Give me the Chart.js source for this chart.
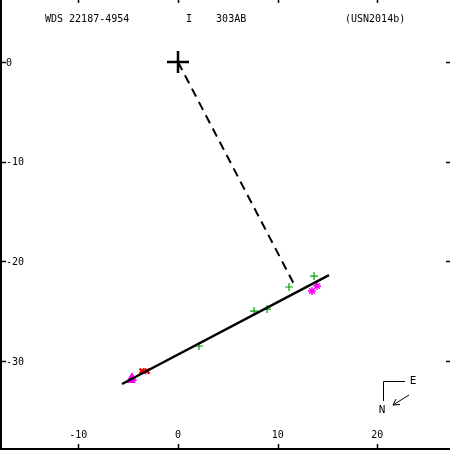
<!DOCTYPE html>
<html>
<head>
<meta charset="utf-8">
<script src="https://cdn.jsdelivr.net/npm/chart.js@4"></script>
<style>
  html, body { margin: 0; padding: 0; background: #fff; }
  #wrap { width: 450px; height: 450px; }
</style>
</head>
<body>
<div id="wrap"><canvas id="orbit"></canvas></div>
<script>
// axis ranges (arcsec-ish units)
const xRange = [-17.86, 27.29];
const yRange = [-38.92, 6.22];
const xTicks = [-10, 0, 10, 20];
const yTicks = [0, -10, -20, -30];

// title pieces
const titleLeft = 'WDS 22187-4954';
const titleMid = 'I    303AB';
const titleRight = '(USN2014b)';

// primary star and observations
const primary = [{x: 0, y: 0}];
const greenObs = [
  {x: 13.65, y: -21.47}, {x: 11.14, y: -22.57}, {x: 7.63, y: -24.98},
  {x: 8.93, y: -24.78}, {x: 2.11, y: -28.49}
];
const magentaStars = [{x: 13.95, y: -22.47}, {x: 13.44, y: -22.97}];
const redObs = [{x: -3.61, y: -31.0}, {x: -3.11, y: -31.0}];
const magentaTri = [{x: -4.62, y: -31.7}, {x: -4.72, y: -31.9}];

// linear fit and line to periastron-ish point
const fitLine = [{x: -5.62, y: -32.3}, {x: 15.15, y: -21.37}];
const dashLine = [{x: 0, y: 0}, {x: 11.74, y: -22.47}];

// draws frame, ticks, labels, title and compass
const framePlugin = {
  id: 'frame',
  afterDraw(chart) {
    const c = chart.ctx;
    const xs = chart.scales.x, ys = chart.scales.y;
    const a = chart.chartArea;
    c.save();
    c.strokeStyle = '#000';
    c.fillStyle = '#000';
    // left and bottom axis lines
    c.lineWidth = 2;
    c.beginPath();
    c.moveTo(a.left + 1, a.top);
    c.lineTo(a.left + 1, a.bottom - 1);
    c.lineTo(a.right, a.bottom - 1);
    c.stroke();
    // ticks
    c.lineWidth = 1.5;
    c.beginPath();
    xTicks.forEach(v => {
      const px = Math.round(xs.getPixelForValue(v)) + 0.5;
      c.moveTo(px, a.top); c.lineTo(px, a.top + 3);
      c.moveTo(px, a.bottom - 1); c.lineTo(px, a.bottom - 6);
    });
    yTicks.forEach(v => {
      const py = Math.round(ys.getPixelForValue(v)) + 0.5;
      c.moveTo(a.left + 1, py); c.lineTo(a.left + 6, py);
      c.moveTo(a.right, py); c.lineTo(a.right - 4, py);
    });
    c.stroke();
    // tick labels
    c.font = '10px "DejaVu Sans Mono"';
    c.textAlign = 'center';
    c.textBaseline = 'middle';
    xTicks.forEach(v => {
      c.fillText(String(v), xs.getPixelForValue(v), a.bottom - 15);
    });
    c.textAlign = 'left';
    yTicks.forEach(v => {
      c.fillText(String(v), a.left + 6, ys.getPixelForValue(v) + 1);
    });
    // title
    c.textBaseline = 'alphabetic';
    c.fillText(titleLeft, 45, 22);
    c.fillText(titleMid, 186, 22);
    c.fillText(titleRight, 345, 22);
    // compass
    const cx = a.right - 67, cy = a.bottom - 69;
    c.lineWidth = 1;
    c.beginPath();
    c.moveTo(cx + 22, cy + 0.5); c.lineTo(cx + 0.5, cy + 0.5); c.lineTo(cx + 0.5, cy + 20);
    c.moveTo(cx + 26, cy + 14); c.lineTo(cx + 10, cy + 24);
    c.moveTo(cx + 10, cy + 24); c.lineTo(cx + 17, cy + 23.5);
    c.moveTo(cx + 10, cy + 24); c.lineTo(cx + 13, cy + 18);
    c.stroke();
    c.textAlign = 'center';
    c.textBaseline = 'middle';
    c.font = '11px "DejaVu Sans Mono"';
    c.fillText('E', cx + 30, cy);
    c.fillText('N', cx - 1, cy + 29);
    c.restore();
  }
};

new Chart(document.getElementById('orbit'), {
  type: 'scatter',
  data: {
    datasets: [
      {
        data: fitLine, showLine: true, borderColor: '#000', borderWidth: 2.5,
        pointRadius: 0
      },
      {
        data: dashLine, showLine: true, borderColor: '#000', borderWidth: 2,
        borderDash: [9, 6], pointRadius: 0
      },
      {
        data: primary, pointStyle: 'cross', pointRadius: 11,
        borderColor: '#000', borderWidth: 2.5
      },
      {
        data: greenObs, pointStyle: 'cross', pointRadius: 4,
        borderColor: '#00a000', borderWidth: 1.2
      },
      {
        data: magentaStars, pointStyle: 'star', pointRadius: 4,
        borderColor: '#ff00ff', borderWidth: 1.5
      },
      {
        data: redObs, pointStyle: 'crossRot', pointRadius: 3.5,
        borderColor: '#ff0000', borderWidth: 2.5
      },
      {
        data: magentaTri, pointStyle: 'triangle', pointRadius: 5,
        borderColor: '#ff00ff', backgroundColor: '#ff00ff', borderWidth: 1
      }
    ]
  },
  options: {
    responsive: true,
    maintainAspectRatio: false,
    animation: false,
    layout: {padding: 0, autoPadding: false},
    plugins: {legend: {display: false}, tooltip: {enabled: false}},
    scales: {
      x: {type: 'linear', display: false, min: xRange[0], max: xRange[1]},
      y: {type: 'linear', display: false, min: yRange[0], max: yRange[1]}
    }
  },
  plugins: [framePlugin]
});
</script>
</body>
</html>
